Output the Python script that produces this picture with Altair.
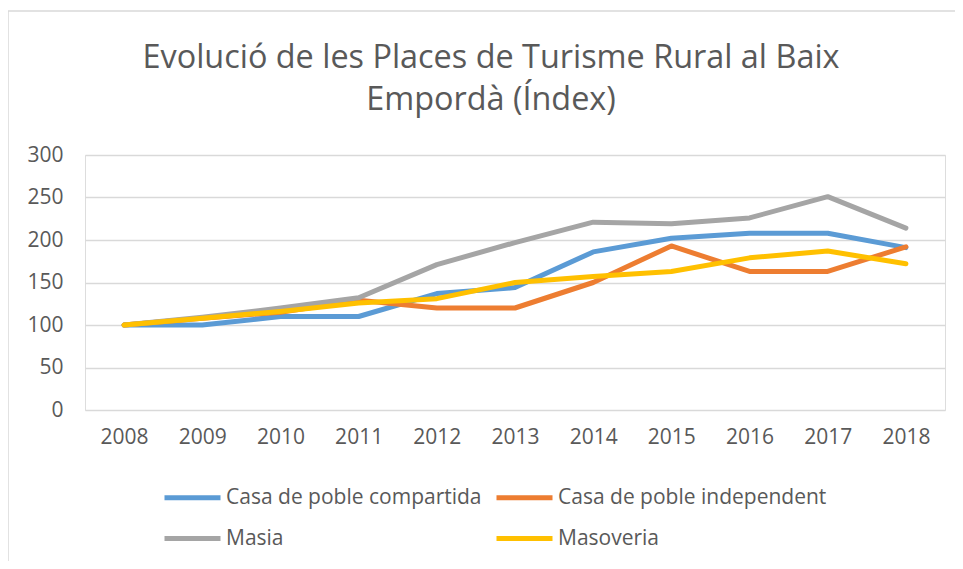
import altair as alt
import pandas as pd

years = ["2008", "2009", "2010", "2011", "2012", "2013", "2014", "2015", "2016", "2017", "2018"]
series_names = ["Casa de poble compartida", "Casa de poble independent", "Masia", "Masoveria"]
casa_compartida = [100, 100, 110, 110, 137, 144, 186, 202, 208, 208, 191]
casa_independent = [100, 108, 115, 129, 120, 120, 150, 193, 163, 163, 192]
masia = [100, 109, 120, 132, 171, 197, 221, 219, 226, 251, 214]
masoveria = [100, 108, 116, 126, 131, 150, 157, 163, 179, 187, 172]
colors = ["#5B9BD5", "#ED7D31", "#A5A5A5", "#FFC000"]
title_lines = ["Evolució de les Places de Turisme Rural al Baix", "Empordà (Índex)"]

rows = []
for name, vals in zip(series_names, [casa_compartida, casa_independent, masia, masoveria]):
    for i, (y, v) in enumerate(zip(years, vals)):
        rows.append({"Any": y, "Index": v, "Serie": name, "order": series_names.index(name)})
df = pd.DataFrame(rows)

FONT = "Open Sans"
GREY = "#595959"

lines = alt.Chart(df).mark_line(strokeWidth=5, strokeCap="round", strokeJoin="round").encode(
    x=alt.X("Any:O", sort=years,
            scale=alt.Scale(type="point", padding=0.5),
            axis=alt.Axis(title=None, labelAngle=0, domain=False, ticks=False,
                          labelPadding=16, labelFontSize=21, labelColor=GREY, labelFont=FONT)),
    y=alt.Y("Index:Q", scale=alt.Scale(domain=[0, 300], nice=False),
            axis=alt.Axis(title=None, values=[0, 50, 100, 150, 200, 250, 300], domain=False, ticks=False,
                          labelPadding=22, labelFontSize=21, labelColor=GREY, labelFont=FONT,
                          gridColor="#D9D9D9", gridWidth=1.5)),
    color=alt.Color("Serie:N", scale=alt.Scale(domain=series_names, range=colors),
                    legend=alt.Legend(title=None, orient="none", legendX=77, legendY=312,
                                      columns=2, columnPadding=4, rowPadding=-2,
                                      symbolType="stroke", symbolSize=3136, symbolStrokeWidth=5,
                                      labelFontSize=21, labelColor=GREY, labelFont=FONT,
                                      labelLimit=400, labelOffset=3, direction="horizontal")),
    order=alt.Order("order:Q"),
)

title_df = pd.DataFrame({"t": title_lines, "line": [0, 1]})
title1 = alt.Chart(title_df).transform_filter("datum.line == 0").mark_text(
    font=FONT, fontSize=32.4, color=GREY, align="center", baseline="middle").encode(
    text="t:N", x=alt.value(406), y=alt.value(-97))
title2 = alt.Chart(title_df).transform_filter("datum.line == 1").mark_text(
    font=FONT, fontSize=32.4, color=GREY, align="center", baseline="middle").encode(
    text="t:N", x=alt.value(406), y=alt.value(-55))

border_top = alt.Chart(pd.DataFrame({"v": [0]})).mark_rule(color="#D9D9D9", strokeWidth=1.5).encode(
    x=alt.value(-77), x2=alt.value(900), y=alt.value(-144))
border_left = alt.Chart(pd.DataFrame({"v": [0]})).mark_rule(color="#D9D9D9", strokeWidth=1.5).encode(
    x=alt.value(-77), y=alt.value(-144), y2=alt.value(420))

chart = alt.layer(border_top, border_left, title1, title2, lines).properties(
    width=860, height=255,
    autosize=alt.AutoSizeParams(type="none"),
    padding={"left": 77, "top": 147, "right": 10, "bottom": 151},
).configure_view(stroke=None).configure(background="white")

chart.save("out.html", embed_options={"renderer": "svg", "actions": False})
